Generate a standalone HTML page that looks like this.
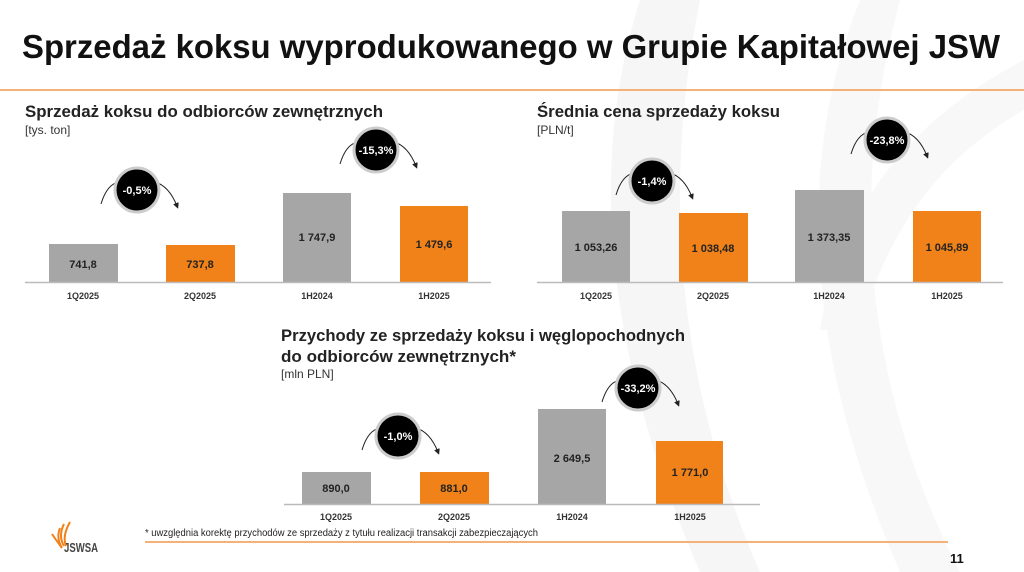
<!DOCTYPE html>
<html><head><meta charset="utf-8"><style>
html,body{margin:0;padding:0;background:#fff;width:1024px;height:572px;overflow:hidden}
text{font-family:"Liberation Sans",sans-serif}
</style></head><body>
<svg width="1024" height="572" viewBox="0 0 1024 572" xmlns="http://www.w3.org/2000/svg">
<defs>
<marker id="ah" markerWidth="6" markerHeight="6" refX="3" refY="3" orient="auto"><path d="M0,0 L6,3 L0,6 z" fill="#222"/></marker>
</defs>
<!-- background swoosh -->
<path d="M640,0 Q560,250 700,572 L760,572 Q640,300 700,0 z" fill="#f6f6f6"/>
<path d="M860,0 Q760,250 900,572 L960,572 Q820,300 900,0 z" fill="#f8f8f8"/>
<path d="M1024,60 Q850,150 820,330 L860,330 Q900,180 1024,110 z" fill="#f8f8f8"/>
<!-- title -->
<text x="22" y="58" font-size="33" font-weight="bold" textLength="978" lengthAdjust="spacingAndGlyphs" fill="#111">Sprzedaż koksu wyprodukowanego w Grupie Kapitałowej JSW</text>
<rect x="0" y="89" width="1024" height="2" fill="#f4b27a"/>

<!-- chart 1 -->
<text x="25" y="117" font-size="17" font-weight="bold" fill="#222" textLength="358" lengthAdjust="spacingAndGlyphs">Sprzedaż koksu do odbiorców zewnętrznych</text>
<text x="25" y="134" font-size="12" fill="#333">[tys. ton]</text>
<rect x="49" y="244" width="69" height="38" fill="#a6a6a6"/>
<rect x="166" y="245" width="69" height="37" fill="#f08219"/>
<rect x="283" y="193" width="68" height="89" fill="#a6a6a6"/>
<rect x="400" y="206" width="68" height="76" fill="#f08219"/>
<line x1="25" y1="282.5" x2="491" y2="282.5" stroke="#bbb" stroke-width="1.5"/>
<g font-size="11" font-weight="bold" fill="#222" text-anchor="middle">
<text x="83" y="268">741,8</text><text x="200" y="268">737,8</text>
<text x="317" y="241">1 747,9</text><text x="434" y="248">1 479,6</text>
</g>
<g font-size="9" font-weight="bold" fill="#333" text-anchor="middle">
<text x="83" y="299">1Q2025</text><text x="200" y="299">2Q2025</text><text x="317" y="299">1H2024</text><text x="434" y="299">1H2025</text>
</g>

<!-- chart 2 -->
<text x="537" y="117" font-size="17" font-weight="bold" fill="#222" textLength="243" lengthAdjust="spacingAndGlyphs">Średnia cena sprzedaży koksu</text>
<text x="537" y="134" font-size="12" fill="#333">[PLN/t]</text>
<rect x="562" y="211" width="68" height="71" fill="#a6a6a6"/>
<rect x="679" y="213" width="69" height="69" fill="#f08219"/>
<rect x="795" y="190" width="69" height="92" fill="#a6a6a6"/>
<rect x="913" y="211" width="68" height="71" fill="#f08219"/>
<line x1="537" y1="282.5" x2="1003" y2="282.5" stroke="#bbb" stroke-width="1.5"/>
<g font-size="11" font-weight="bold" fill="#222" text-anchor="middle">
<text x="596" y="251">1 053,26</text><text x="713" y="252">1 038,48</text>
<text x="829" y="241">1 373,35</text><text x="947" y="251">1 045,89</text>
</g>
<g font-size="9" font-weight="bold" fill="#333" text-anchor="middle">
<text x="596" y="299">1Q2025</text><text x="713" y="299">2Q2025</text><text x="829" y="299">1H2024</text><text x="947" y="299">1H2025</text>
</g>

<!-- chart 3 -->
<text x="281" y="341" font-size="17" font-weight="bold" fill="#222" textLength="404" lengthAdjust="spacingAndGlyphs">Przychody ze sprzedaży koksu i węglopochodnych</text>
<text x="281" y="362" font-size="17" font-weight="bold" fill="#222" textLength="235" lengthAdjust="spacingAndGlyphs">do odbiorców zewnętrznych*</text>
<text x="281" y="378" font-size="12" fill="#333">[mln PLN]</text>
<rect x="302" y="472" width="69" height="32" fill="#a6a6a6"/>
<rect x="420" y="472" width="69" height="32" fill="#f08219"/>
<rect x="538" y="409" width="68" height="95" fill="#a6a6a6"/>
<rect x="656" y="441" width="67" height="63" fill="#f08219"/>
<line x1="284" y1="504.5" x2="760" y2="504.5" stroke="#bbb" stroke-width="1.5"/>
<g font-size="11" font-weight="bold" fill="#222" text-anchor="middle">
<text x="336" y="492">890,0</text><text x="454" y="492">881,0</text>
<text x="572" y="462">2 649,5</text><text x="690" y="476">1 771,0</text>
</g>
<g font-size="9" font-weight="bold" fill="#333" text-anchor="middle">
<text x="336" y="520">1Q2025</text><text x="454" y="520">2Q2025</text><text x="572" y="520">1H2024</text><text x="690" y="520">1H2025</text>
</g>

<!-- bubbles -->
<g font-size="11" font-weight="bold" fill="#fff" text-anchor="middle">
<g transform="translate(137,190)"><path d="M-36,14 Q-30,-6 -18,-8" stroke="#222" fill="none"/><path d="M18,-8 Q32,-4 40,16" stroke="#222" fill="none" marker-end="url(#ah)"/><circle r="22" fill="#000" stroke="#ccc" stroke-width="3"/><text y="4">-0,5%</text></g>
<g transform="translate(376,150)"><path d="M-36,14 Q-30,-6 -18,-8" stroke="#222" fill="none"/><path d="M18,-8 Q32,-4 40,16" stroke="#222" fill="none" marker-end="url(#ah)"/><circle r="22" fill="#000" stroke="#ccc" stroke-width="3"/><text y="4">-15,3%</text></g>
<g transform="translate(652,181)"><path d="M-36,14 Q-30,-6 -18,-8" stroke="#222" fill="none"/><path d="M18,-8 Q32,-4 40,16" stroke="#222" fill="none" marker-end="url(#ah)"/><circle r="22" fill="#000" stroke="#ccc" stroke-width="3"/><text y="4">-1,4%</text></g>
<g transform="translate(887,140)"><path d="M-36,14 Q-30,-6 -18,-8" stroke="#222" fill="none"/><path d="M18,-8 Q32,-4 40,16" stroke="#222" fill="none" marker-end="url(#ah)"/><circle r="22" fill="#000" stroke="#ccc" stroke-width="3"/><text y="4">-23,8%</text></g>
<g transform="translate(398,436)"><path d="M-36,14 Q-30,-6 -18,-8" stroke="#222" fill="none"/><path d="M18,-8 Q32,-4 40,16" stroke="#222" fill="none" marker-end="url(#ah)"/><circle r="22" fill="#000" stroke="#ccc" stroke-width="3"/><text y="4">-1,0%</text></g>
<g transform="translate(638,388)"><path d="M-36,14 Q-30,-6 -18,-8" stroke="#222" fill="none"/><path d="M18,-8 Q32,-4 40,16" stroke="#222" fill="none" marker-end="url(#ah)"/><circle r="22" fill="#000" stroke="#ccc" stroke-width="3"/><text y="4">-33,2%</text></g>
</g>

<!-- footer -->
<text x="145" y="536" font-size="10" fill="#222" textLength="393" lengthAdjust="spacingAndGlyphs">* uwzględnia korektę przychodów ze sprzedaży z tytułu realizacji transakcji zabezpieczających</text>
<rect x="145" y="541" width="803" height="2" fill="#f4b27a"/>
<g stroke="#f08219" stroke-width="2" fill="none">
<path d="M60,528 Q56,538 62,548"/><path d="M64,524 Q58,536 64,546"/><path d="M70,522 Q62,536 66,546"/><path d="M52,534 Q56,540 62,548"/>
</g>
<text x="64" y="552" font-size="13" font-weight="bold" fill="#444" textLength="34" lengthAdjust="spacingAndGlyphs">JSWSA</text>
<text x="950" y="563" font-size="13" font-weight="bold" fill="#111">11</text>
</svg>
</body></html>
